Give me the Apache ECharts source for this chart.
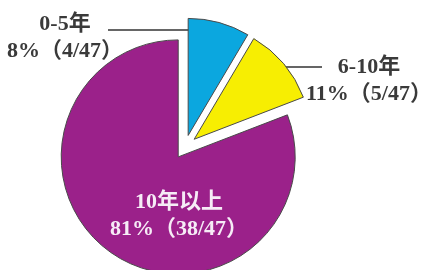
<!DOCTYPE html>
<html>
<head>
<meta charset="utf-8">
<script src="https://cdn.jsdelivr.net/npm/echarts@6/dist/echarts.min.js"></script>
<style>
  html, body { margin: 0; padding: 0; background: #fff; }
  #chart { width: 423px; height: 270px; }
</style>
</head>
<body>
<div id="chart"></div>
<script>
// 教龄分布
const categories = ['0-5年', '6-10年', '10年以上']
const counts = [4, 5, 38]
const colors = ['#0ba7df', '#f7ee02', '#9b218a']

const total = counts.reduce((a, b) => a + b, 0)
const font = '"Liberation Serif", "Noto Sans CJK SC", serif'

// pie geometry
const cx = 185
const cy = 147
const explode = 12

// label placement (layout only)
const labelPlace = [
  { x: 65, y: 38, line: [[205, 30], [150, 30], [108, 30]] },
  { x: 369, y: 81, line: [[272, 79], [283, 67], [322, 67]] },
  { x: 179, y: 216 }
]

// one series per slice so each slice can be pulled out along its bisector
let acc = 0
const series = categories.map((name, k) => {
  const mid = (acc + counts[k] / 2) / total * Math.PI * 2
  acc += counts[k]
  const pl = labelPlace[k]
  return {
    type: 'pie',
    center: [cx + explode * Math.sin(mid), cy - explode * Math.cos(mid)],
    radius: [0, 117],
    startAngle: 90,
    clockwise: true,
    percentPrecision: 0,
    avoidLabelOverlap: false,
    emphasis: { disabled: true },
    label: {
      fontFamily: font,
      fontSize: 22,
      fontWeight: 'bold',
      lineHeight: 27,
      color: '#3a3a3a'
    },
    labelLayout: () => {
      const out = { x: pl.x, y: pl.y, align: 'center', verticalAlign: 'middle' }
      if (pl.line) out.labelLinePoints = pl.line
      return out
    },
    data: categories.map((n, i) => {
      const own = i === k
      return {
        name: n,
        value: counts[i],
        itemStyle: own
          ? { color: colors[i], borderColor: '#4a4a4a', borderWidth: 1 }
          : { color: 'rgba(0,0,0,0)', borderWidth: 0 },
        label: own
          ? {
              show: true,
              position: i === 2 ? 'inside' : 'outside',
              color: i === 2 ? '#f6ecf6' : '#3a3a3a',
              formatter: p => `${p.name}\n${p.percent}%（${p.value}/${total}）`
            }
          : { show: false },
        labelLine: own && i !== 2
          ? { show: true, lineStyle: { color: '#333', width: 1.5 } }
          : { show: false }
      }
    })
  }
})

const chart = echarts.init(document.getElementById('chart'), null, { renderer: 'canvas' })

chart.setOption({
  animation: false,
  backgroundColor: '#fff',
  series
})
</script>
</body>
</html>
